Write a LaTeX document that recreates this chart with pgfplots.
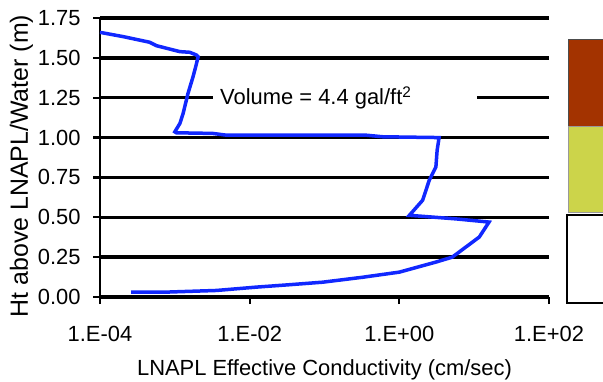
\documentclass[border=0pt]{standalone}
\usepackage{fontspec}
\setmainfont{Liberation Sans}
\usepackage{pgfplots}
\pgfplotsset{compat=1.18}

\definecolor{curveblue}{RGB}{17,40,255}
\definecolor{topbrown}{RGB}{163,51,0}
\definecolor{midyellow}{RGB}{204,212,74}

\begin{document}
\begin{tikzpicture}
    \begin{axis}[
        at={(0,0)}, anchor=south west,
        scale only axis,
        width=449bp, height=279bp,
        xmode=log,
        xmin=1e-4, xmax=1e2,
        ymin=0, ymax=1.75,
        axis lines=left,
        axis line style={-, black, line width=2.5bp},
        tick style={black, line width=2.2bp},
        tick align=outside,
        major tick length=7bp,
        xtick={1e-4,1e-2,1,1e2},
        xticklabels={1.E-04, 1.E-02, 1.E+00, 1.E+02},
        minor xtick={},
        ytick={0,0.25,0.5,0.75,1,1.25,1.5,1.75},
        yticklabels={0.00,0.25,0.50,0.75,1.00,1.25,1.50,1.75},
        ymajorgrids=true,
        major grid style={black, line width=3.4bp},
        ticklabel style={font=\fontsize{22}{26}\selectfont},
        xticklabel style={yshift=-19bp},
        yticklabel style={xshift=-9bp},
        label style={font=\fontsize{22}{26}\selectfont},
        xlabel={LNAPL Effective Conductivity (cm/sec)},
        ylabel={Ht above LNAPL/Water (m)},
        xlabel style={at={(axis description cs:0.5,-0.2796)}, anchor=base},
        ylabel style={at={(axis description cs:-0.1604,0.4695)}, anchor=base, font=\fontsize{25}{29}\selectfont},
    ]
        % measured profile
        \addplot[curveblue, line width=3.5bp] coordinates {
            (1e-4,1.66) (2.05e-4,1.633) (4.6e-4,1.598) (5.7e-4,1.576)
            (1.17e-3,1.539) (1.58e-3,1.535) (1.94e-3,1.518) (2.05e-3,1.507)
            (1.9e-3,1.444) (1.75e-3,1.381) (1.5e-3,1.277) (1.29e-3,1.151)
            (1.17e-3,1.089) (1.0e-3,1.036) (1.05e-3,1.030) (3.2e-3,1.026)
            (4.9e-3,1.015) (0.36,1.015) (0.6,1.005) (3.4,1.0)
            (3.2,0.92) (3.08,0.816) (2.5,0.73) (2.05,0.607) (1.36,0.512)
            (2.05,0.506) (5.7,0.49) (15.8,0.47) (11.7,0.376) (5.1,0.25)
            (3.08,0.219) (1.0,0.156) (0.325,0.124) (0.095,0.093) (0.034,0.077)
            (0.0123,0.062) (3.6e-3,0.041) (7e-4,0.030) (2.6e-4,0.030)
        };
        % text box
        \fill[white] (rel axis cs:0.2517,0.674) rectangle (rel axis cs:0.8396,0.754);
        \node[anchor=west, inner sep=0pt, font=\fontsize{22}{26}\selectfont]
            at (rel axis cs:0.2673,0.714) {Volume = 4.4 gal/ft\textsuperscript{2}};
    \end{axis}
    % partial boxes at the right edge
    \draw[black!70, line width=1bp, fill=topbrown] (468bp,170bp) rectangle (530bp,257bp);
    \draw[black!40, line width=1bp, fill=midyellow] (468bp,84bp) rectangle (530bp,170bp);
    \draw[black, line width=1.6bp, fill=white] (467bp,-6bp) rectangle (530bp,82bp);
    \pgfresetboundingbox
    \useasboundingbox (-100bp,-85bp) rectangle (503bp,297bp);
\end{tikzpicture}
\end{document}
